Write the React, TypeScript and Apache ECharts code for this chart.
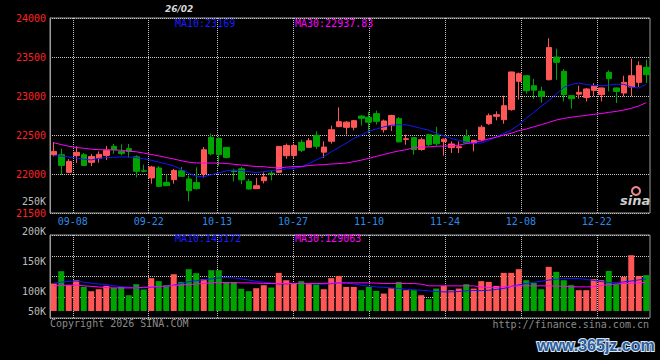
import React, { useEffect, useRef } from 'react';
import * as echarts from 'echarts';

const dates = [
  '09-03','09-04','09-05','09-08','09-09','09-10','09-11','09-12','09-15','09-16',
  '09-17','09-18','09-19','09-22','09-23','09-24','09-25','09-26','09-29','09-30',
  '10-09','10-10','10-13','10-14','10-15','10-16','10-17','10-20','10-21','10-22',
  '10-23','10-24','10-27','10-28','10-29','10-30','10-31','11-03','11-04','11-05',
  '11-06','11-07','11-10','11-11','11-12','11-13','11-14','11-17','11-18','11-19',
  '11-20','11-21','11-24','11-25','11-26','11-27','11-28','12-01','12-02','12-03',
  '12-04','12-05','12-08','12-09','12-10','12-11','12-12','12-15','12-16','12-17',
  '12-18','12-19','12-22','12-23','12-24','12-25','12-26','12-29','12-30','12-31',
];

const tickDates = ['09-08','09-22','10-13','10-27','11-10','11-24','12-08','12-22'];

const opens = [
  22247,22247,22021,22235,22247,22150,22200,22238,22355,22290,
  22325,22220,22042,21950,22077,21893,21927,22042,21936,21890,
  22000,22470,22455,22341,22040,22066,21905,21812,21914,22010,
  22021,22235,22238,22406,22342,22496,22280,22420,22607,22598,
  22598,22743,22728,22774,22568,22620,22709,22442,22466,22315,
  22504,22500,22415,22338,22336,22483,22397,22440,22645,22740,
  22696,22825,23188,23260,23132,23060,23209,23500,23316,23004,
  23024,22982,23072,23017,23303,23103,23038,23115,23175,23368,
];
const closes = [
  22290,22110,22162,22278,22110,22225,22252,22305,22312,22262,
  22290,22035,22035,22090,21842,21850,22046,21970,21786,21812,
  22311,22258,22248,22213,22030,21927,21808,21850,21962,22002,
  22354,22365,22365,22303,22427,22355,22345,22568,22671,22665,
  22684,22714,22664,22675,22680,22750,22412,22452,22312,22440,
  22376,22388,22447,22385,22350,22400,22430,22600,22748,22760,
  22876,23308,23286,23068,23075,22995,23623,23432,23017,22966,
  23047,23090,23128,23103,23222,23059,23175,23260,23389,23273,
];
const lows = [
  22227,21990,22015,22141,22105,22100,22145,22180,22260,22240,
  22210,21957,22021,21876,21830,21848,21876,21965,21650,21800,
  21953,22240,22100,22200,21905,21870,21800,21810,21880,21918,
  22015,22195,22198,22282,22333,22320,22205,22389,22600,22504,
  22560,22620,22520,22635,22530,22550,22404,22376,22248,22300,
  22360,22360,22235,22269,22269,22395,22290,22418,22630,22688,
  22645,22812,22953,23030,22962,22915,23200,23209,22932,22837,
  22966,22931,22995,22931,23059,22910,22995,22995,23115,23167,
];
const highs = [
  22410,22325,22192,22355,22270,22256,22290,22360,22385,22380,
  22385,22240,22120,22105,22100,21990,22065,22090,21980,22085,
  22346,22517,22470,22345,22068,22090,21935,21950,22020,22040,
  22360,22390,22390,22440,22460,22547,22420,22620,22855,22680,
  22692,22755,22800,22812,22697,22760,22730,22504,22475,22465,
  22510,22605,22452,22418,22418,22570,22440,22625,22775,22803,
  23004,23312,23300,23265,23220,23120,23740,23607,23345,23010,
  23132,23103,23165,23108,23329,23108,23260,23478,23444,23466,
];

const ma10 = [
  22236,22230,22218,22205,22190,22180,22200,22210,22215,22218,
  22218,22210,22195,22176,22152,22130,22103,22060,22010,21970,
  21965,21990,22015,22040,22050,22045,22030,22018,22030,22042,
  22055,22065,22072,22090,22135,22180,22225,22285,22340,22395,
  22455,22500,22548,22576,22604,22625,22633,22631,22609,22585,
  22560,22522,22490,22455,22432,22408,22396,22397,22430,22478,
  22520,22565,22630,22715,22790,22870,22940,23025,23110,23150,
  23165,23148,23133,23132,23140,23150,23150,23115,23102,23150,
];
const ma30 = [
  22400,22378,22355,22340,22330,22318,22312,22310,22308,22305,
  22292,22285,22268,22250,22232,22212,22192,22170,22152,22142,
  22141,22141,22140,22135,22125,22115,22105,22096,22094,22082,
  22078,22088,22094,22096,22108,22116,22120,22128,22134,22141,
  22158,22178,22200,22226,22250,22275,22295,22312,22334,22344,
  22348,22355,22358,22360,22370,22390,22405,22425,22450,22472,
  22500,22522,22556,22576,22605,22632,22662,22692,22712,22728,
  22740,22752,22765,22775,22790,22802,22820,22842,22872,22915,
];

const volumes = [
  112800,133300,110000,118300,107200,100000,103300,108900,105500,107200,
  93300,111700,102800,121700,116700,110000,128300,115500,136700,130000,
  120000,135000,135000,115500,115500,103900,100000,105000,110000,106100,
  130600,118300,112800,116700,112800,111100,103300,121700,125500,107200,
  107200,101700,107200,100600,96100,105000,115500,101700,101700,93300,
  86700,104400,108900,101700,104400,111700,104400,116700,115500,108900,
  130600,130600,136700,118300,113900,103300,140600,132200,118300,110000,
  101700,101700,120000,118300,133900,111700,123900,160000,125500,126700,
];
const volMa10 = [
  113500,115000,116500,117000,115000,113500,112000,111000,109000,107500,
  106500,105500,105500,106500,107500,108500,110000,113000,115800,117500,
  119000,120500,122000,122800,122000,120500,118500,116500,115000,113500,
  112000,112300,112800,112800,112500,112000,111700,112500,114000,113500,
  112000,110000,108500,107200,106500,105500,104500,103300,102500,101500,
  100600,99500,98900,98900,99500,100500,101200,101000,101500,103000,
  104500,108000,110500,113000,115000,116500,118500,120000,121000,121100,
  121100,119500,118000,116000,114500,114200,115500,117000,118800,120500,
];
const volMa30 = [
  108900,109500,110000,110000,109000,108000,107000,106000,105500,105500,
  105500,105500,106500,107000,107800,108500,109500,110500,111100,112000,
  113000,114000,114400,114400,114200,114000,113900,113500,113000,112800,
  112800,112800,112800,112800,112800,112800,113000,113500,113900,113900,
  113900,113900,113900,113500,112800,112800,112800,112800,112800,111700,
  109000,108900,108900,108900,108900,108900,108900,107000,106200,106500,
  107200,108000,108900,108900,108900,108900,108900,108500,108200,107500,
  107200,107200,107500,109500,111000,112000,112800,113300,114000,114800,
];

const FONT = '"DejaVu Sans Mono", monospace';
const UP = '#ff5656';
const DOWN = '#00a400';
const GRIDDOT = { color: '#c4c4c4', type: [1, 1] as any, width: 1 };
const BORDER = '#9c9c9c';

export default function App() {
  const ref = useRef<HTMLDivElement>(null);
  useEffect(() => {
    document.body.style.margin = '0';
    document.body.style.background = '#000';
    const chart = echarts.init(ref.current!, null, { renderer: 'svg' });
    const isTick = (_i: number, v: string) => tickDates.includes(v);
    const candleData = dates.map((_, i) => [opens[i], closes[i], lows[i], highs[i]]);
    const volData = volumes.map((v, i) => ({
      value: v,
      itemStyle: { color: closes[i] >= opens[i] ? UP : DOWN },
    }));
    const txt = (text: string, x: number, y: number, fill: string, extra: any = {}) => ({
      type: 'text', x, y, z: 100,
      style: { text, fill, fontFamily: FONT, fontSize: 10, verticalAlign: 'middle', align: 'left', ...extra },
    });
    chart.setOption({
      animation: false,
      backgroundColor: '#000',
      grid: [
        { left: 50, top: 18, width: 600, height: 195, show: true, borderColor: BORDER, borderWidth: 1 },
        { left: 50, top: 235, width: 600, height: 76 },
        { left: 50, top: 235, width: 600, height: 83, show: true, borderColor: BORDER, borderWidth: 1 },
        { left: 50, top: 201, width: 600, height: 120 },
      ],
      xAxis: [
        { type: 'category', gridIndex: 0, data: dates, boundaryGap: true, show: false },
        {
          type: 'category', gridIndex: 0, data: dates, boundaryGap: false, position: 'bottom',
          axisLine: { show: false }, axisTick: { show: false },
          axisLabel: { interval: isTick, color: '#2f8ae6', fontFamily: FONT, fontSize: 10, margin: 3 },
          splitLine: { show: true, interval: isTick, lineStyle: GRIDDOT },
        },
        { type: 'category', gridIndex: 1, data: dates, boundaryGap: true, show: false },
        {
          type: 'category', gridIndex: 2, data: dates, boundaryGap: false,
          axisLine: { show: false }, axisTick: { show: false }, axisLabel: { show: false },
          splitLine: { show: true, interval: isTick, lineStyle: GRIDDOT },
        },
        { type: 'category', gridIndex: 3, data: dates, show: false },
      ],
      yAxis: [
        {
          type: 'value', gridIndex: 0, min: 21500, max: 24000, interval: 500,
          axisLine: { show: true, lineStyle: { color: BORDER } }, axisTick: { show: false },
          axisLabel: { color: '#ff2222', fontFamily: FONT, fontSize: 10, margin: 4, formatter: (v: number) => String(v) },
          splitLine: { show: true, lineStyle: GRIDDOT },
        },
        { type: 'value', gridIndex: 1, min: 67000, max: 193667, show: false, splitLine: { show: false } },
        {
          type: 'category', gridIndex: 2, data: ['a', 'b', 'c', 'd', 'e'], boundaryGap: false,
          axisLine: { show: true, lineStyle: { color: BORDER } }, axisTick: { show: false }, axisLabel: { show: false },
          splitLine: { show: true, lineStyle: GRIDDOT },
        },
        {
          type: 'value', gridIndex: 3, min: 50000, max: 250000, interval: 50000,
          axisLine: { show: false }, axisTick: { show: false }, splitLine: { show: false },
          axisLabel: {
            color: '#bdbdbd', fontFamily: FONT, fontSize: 10, margin: 4,
            formatter: (v: number) => (v === 50000 ? '{lo|50K}' : v / 1000 + 'K'),
            rich: { lo: { color: '#bdbdbd', fontFamily: FONT, fontSize: 10, padding: [0, 0, 20, 0] } },
          },
        },
      ],
      series: [
        {
          type: 'candlestick', xAxisIndex: 0, yAxisIndex: 0, data: candleData, barWidth: 6,
          itemStyle: { color: UP, color0: DOWN, borderColor: UP, borderColor0: DOWN, borderWidth: 1 },
        },
        { type: 'line', xAxisIndex: 0, yAxisIndex: 0, data: ma10, symbol: 'none', lineStyle: { color: '#1515ff', width: 1 }, z: 5 },
        { type: 'line', xAxisIndex: 0, yAxisIndex: 0, data: ma30, symbol: 'none', lineStyle: { color: '#ff00ff', width: 1 }, z: 5 },
        { type: 'bar', xAxisIndex: 2, yAxisIndex: 1, data: volData, barWidth: 6 },
        { type: 'line', xAxisIndex: 2, yAxisIndex: 1, data: volMa10, symbol: 'none', lineStyle: { color: '#1515ff', width: 1 }, z: 5 },
        { type: 'line', xAxisIndex: 2, yAxisIndex: 1, data: volMa30, symbol: 'none', lineStyle: { color: '#ff00ff', width: 1 }, z: 5 },
      ],
      graphic: [
        txt('26/02', 165, 9, '#d6d6d6', { fontFamily: '"DejaVu Sans", sans-serif', fontSize: 9, fontWeight: 'bold', fontStyle: 'italic' }),
        txt('MA10:23169', 175, 23.5, '#1c1cff'),
        txt('MA30:22937.83', 295, 23.5, '#ff00ff'),
        txt('MA10:143172', 175, 238.5, '#1c1cff'),
        txt('MA30:129063', 295, 238.5, '#ff00ff'),
        txt('Copyright 2026 SINA.COM', 50, 323.5, '#8a8a8a'),
        txt('http://finance.sina.com.cn', 649, 324, '#8a8a8a', { align: 'right' }),
        { type: 'ring', z: 100, shape: { cx: 636, cy: 191, r: 5, r0: 3 }, style: { fill: '#e88a8a' } },
        txt('sina', 620, 200, '#cfcfcf', { fontFamily: '"DejaVu Sans", sans-serif', fontSize: 13, fontWeight: 'bold', fontStyle: 'italic' }),
        txt('www.365jz.com', 537, 345, '#2b5c9c', {
          fontFamily: '"Liberation Sans", sans-serif', fontSize: 16, fontWeight: 'bold',
          stroke: '#d8e6f4', lineWidth: 2,
        }),
      ],
    });
    return () => chart.dispose();
  }, []);
  return (
    <div
      ref={ref}
      style={{ position: 'absolute', left: 0, top: 0, width: 660, height: 360, background: '#000' }}
    />
  );
}
